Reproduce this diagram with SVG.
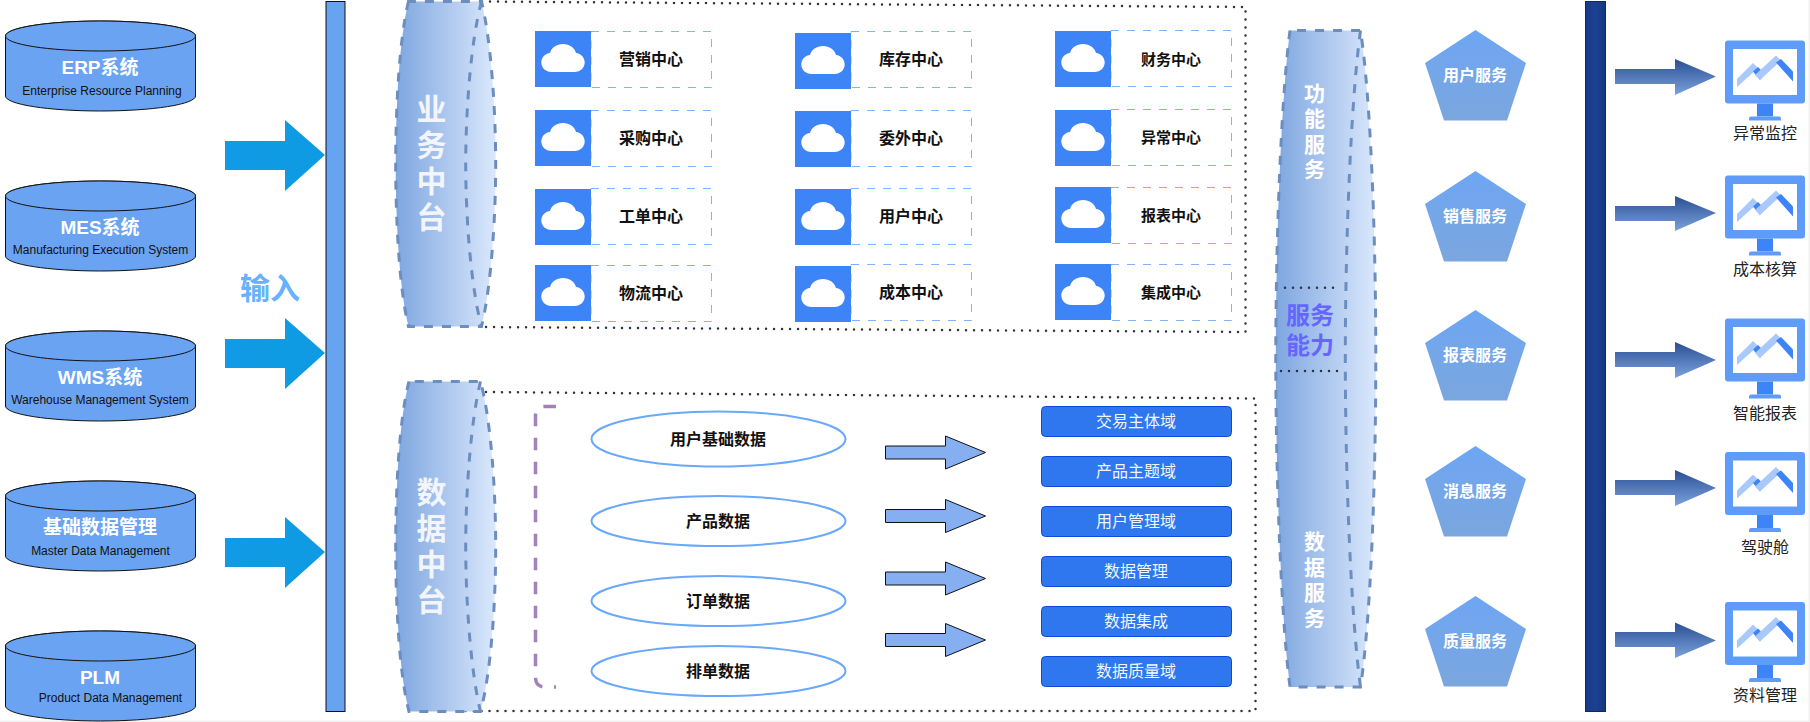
<svg xmlns="http://www.w3.org/2000/svg" width="1810" height="722" viewBox="0 0 1810 722">
<style>
text{font-family:"Liberation Sans","Noto Sans CJK SC",sans-serif;text-anchor:middle;dominant-baseline:central}
.db{fill:#69a3f2;stroke:#111;stroke-width:1}
.dbt{fill:#fff;font-size:19px;font-weight:700}
.dbs{fill:#111;font-size:12px}
.bar{fill:#66a3f1;stroke:#111;stroke-width:1}
.barr{fill:url(#gDark);stroke:#0b2a66;stroke-width:1}
.ar1{fill:url(#gCyan)}
.ar2{fill:#85aff0;stroke:#111;stroke-width:1}
.ar3{fill:url(#gArrow)}
.barrel{fill:url(#gBarrel);stroke:#6c8ebf;stroke-width:3;stroke-dasharray:9 9}
.inner{fill:none;stroke:#6c8ebf;stroke-width:3;stroke-dasharray:9 9}
.bt{fill:#f2f5fb;font-size:30px;font-weight:700;writing-mode:vertical-rl;letter-spacing:6px}
.st{fill:#fff;font-size:21px;font-weight:700;writing-mode:vertical-rl;letter-spacing:4.500px}
.dot{fill:none;stroke:#333;stroke-width:2.500;stroke-linecap:round;stroke-dasharray:0 8}
.card{fill:#fff;stroke:#7eb3ff;stroke-width:1;stroke-dasharray:8 8}
.ct{fill:#111;font-size:16px;font-weight:700}
.ct3{fill:#111;font-size:15px;font-weight:700}
.el{fill:#fff;stroke:#69a8fb;stroke-width:2}
.dom{fill:#2e77ee;stroke:#0d49d8;stroke-width:1}
.domt{fill:#f2f6ff;font-size:16px}
.pent{fill:url(#gPent)}
.pt{fill:#fff;font-size:16px;font-weight:700}
.lab{fill:#222;font-size:16px}
</style>
<defs>
<linearGradient id="gBarrel" x1="0" x2="1" y1="0" y2="0"><stop offset="0" stop-color="#7ea6e0"/><stop offset="1" stop-color="#dae8fc"/></linearGradient>
<linearGradient id="gDark" x1="0" x2="1" y1="0" y2="0"><stop offset="0" stop-color="#163a86"/><stop offset=".5" stop-color="#1c4192"/><stop offset="1" stop-color="#143880"/></linearGradient>
<linearGradient id="gCyan" x1="0" x2="1" y1="0" y2="0"><stop offset="0" stop-color="#119ae6"/><stop offset="1" stop-color="#0e9be3"/></linearGradient>
<linearGradient id="gArrow" x1="0" x2="0" y1="0" y2="1"><stop offset="0" stop-color="#2b4f93"/><stop offset="1" stop-color="#7aa2dc"/></linearGradient>
<linearGradient id="gPent" x1="0" x2="0" y1="0" y2="1"><stop offset="0" stop-color="#6ea6f3"/><stop offset="1" stop-color="#7ba6de"/></linearGradient>
<g id="dbshape">
<path class="db" d="M5.500 36A95 15 0 0 1 195.500 36V96A95 15 0 0 1 5.500 96Z"/>
<path class="db" d="M5.500 36A95 15 0 0 1 195.500 36A95 15 0 0 1 5.500 36Z"/>
</g>
<g id="icon">
<rect width="56" height="56" fill="#3d85f7"/>
<path fill="#fff" d="M16.500 41C10.500 41 6.300 36.500 6.300 31.500C6.300 26.500 10 22.500 15 22C16.500 16.500 21.500 13 28 13C34.500 13 39.500 16.500 41 22C46 22.500 49.700 26.500 49.700 31.500C49.700 36.500 45.500 41 39.500 41Z"/>
</g>
<g id="monitor">
<rect x="0" y="0" width="80" height="63" rx="3" fill="#5f9cf9"/>
<rect x="8" y="8.500" width="64" height="46" fill="#fff"/>
<rect x="32" y="63" width="16" height="13" fill="#3d85f7"/>
<path d="M24 80V78Q24 76 26 76H54Q56 76 56 78V80Z" fill="#5f9cf9"/>
<polygon points="12,46.500 12,38.500 28,22.500 33,27.500" fill="#a9c9fc"/>
<polygon points="28,31 33,26.500 39.500,33 35,39.500" fill="#3d85f7"/>
<polygon points="35,39.500 30,34.500 51,15 56,20" fill="#a9c9fc"/>
<polygon points="51,22 56,18.500 68,31 68,41" fill="#3d85f7"/>
</g>
</defs>

<rect x="0" y="720.500" width="1810" height="1.500" fill="#f1f1f1"/>
<rect x="1808.500" y="0" width="1.500" height="722" fill="#f1f1f1"/>

<g id="connectors">
<polygon class="ar1" points="225,141 285,141 285,120 325,155 285,191 285,170 225,170"/>
<polygon class="ar1" points="225,339 285,339 285,318 325,353 285,389 285,368 225,368"/>
<polygon class="ar1" points="225,538 285,538 285,517 325,552 285,588 285,567 225,567"/>
<polygon class="ar2" points="885.500,446 945.500,446 945.500,436 985.500,452.500 945.500,469 945.500,459 885.500,459"/>
<polygon class="ar2" points="885.500,509.500 945.500,509.500 945.500,499.500 985.500,516 945.500,532.500 945.500,522.500 885.500,522.500"/>
<polygon class="ar2" points="885.500,572 945.500,572 945.500,562 985.500,578.500 945.500,595 945.500,585 885.500,585"/>
<polygon class="ar2" points="885.500,633.500 945.500,633.500 945.500,623.500 985.500,640 945.500,656.500 945.500,646.500 885.500,646.500"/>
<polygon class="ar3" points="1615,69 1675,69 1675,59 1716,76.500 1675,95 1675,84 1615,84"/>
<polygon class="ar3" points="1615,206 1675,206 1675,196 1716,213 1675,231 1675,221 1615,221"/>
<polygon class="ar3" points="1615,352 1675,352 1675,342 1716,360 1675,378 1675,367 1615,367"/>
<polygon class="ar3" points="1615,480 1675,480 1675,470 1716,488 1675,506 1675,495 1615,495"/>
<polygon class="ar3" points="1615,632 1675,632 1675,622.500 1716,640.500 1675,658 1675,647 1615,647"/>
</g>

<g id="db-erp"><use href="#dbshape"/><text class="dbt" x="100" y="67">ERP系统</text><text class="dbs" x="102" y="91">Enterprise Resource Planning</text></g>
<g id="db-mes"><use href="#dbshape" y="160"/><text class="dbt" x="100" y="227">MES系统</text><text class="dbs" x="100.500" y="250">Manufacturing Execution System</text></g>
<g id="db-wms"><use href="#dbshape" y="310"/><text class="dbt" x="100" y="377">WMS系统</text><text class="dbs" x="100" y="400">Warehouse Management System</text></g>
<g id="db-mdm"><use href="#dbshape" y="460"/><text class="dbt" x="100" y="527">基础数据管理</text><text class="dbs" x="100.500" y="550.500">Master Data Management</text></g>
<g id="db-plm"><use href="#dbshape" y="610"/><text class="dbt" x="100" y="677">PLM</text><text class="dbs" x="110.500" y="697.500">Product Data Management</text></g>

<g id="input-label"><text x="270" y="288" font-size="30" font-weight="700" fill="#66b2ff">输入</text></g>
<g id="input-bar"><rect class="bar" x="326" y="1.500" width="19" height="710"/></g>

<g id="box-business"><path class="dot" d="M482 1.500L1245.500 7V332L482 327"/></g>
<g id="box-data"><path class="dot" d="M486 392L1255.500 398.500V711H456"/></g>

<g id="barrel-business">
<path class="barrel" d="M408.500 1.500C399 40 395.700 110 395.700 164C395.700 218 399 288 408.500 326.500H481.500C491 288 495.700 218 495.700 164C495.700 110 491 40 481.500 1.500Z"/>
<path class="inner" d="M481.500 1.500C471 40 465.700 110 465.700 164C465.700 218 471 288 481.500 326.500"/>
<text class="bt" x="429" y="166">业务中台</text>
</g>
<g id="barrel-data">
<path class="barrel" d="M409 381.500C399 420 395.700 490 395.700 546.500C395.700 603 399 673 409 711.500H480.500C491 673 495.700 603 495.700 546.500C495.700 490 491 420 480.500 381.500Z"/>
<path class="inner" d="M480.500 381.500C471 420 465.700 490 465.700 546.500C465.700 603 471 673 480.500 711.500"/>
<text class="bt" x="429" y="549">数据中台</text>
</g>

<g id="c-yingxiao"><rect class="card" x="591" y="31.500" width="120.500" height="56"/><use href="#icon" x="535" y="31"/><text class="ct" x="651" y="59">营销中心</text></g>
<g id="c-caigou"><rect class="card" x="591" y="110.500" width="120.500" height="56"/><use href="#icon" x="535" y="110"/><text class="ct" x="651" y="138">采购中心</text></g>
<g id="c-gongdan"><rect class="card" x="591" y="188.500" width="120.500" height="56"/><use href="#icon" x="535" y="189"/><text class="ct" x="651" y="216">工单中心</text></g>
<g id="c-wuliu"><rect class="card" x="591" y="265.500" width="120.500" height="56"/><use href="#icon" x="535" y="265"/><text class="ct" x="651" y="293">物流中心</text></g>
<g id="c-kucun"><rect class="card" x="851" y="31.500" width="120.500" height="56"/><use href="#icon" x="795" y="33"/><text class="ct" x="911" y="59">库存中心</text></g>
<g id="c-weiwai"><rect class="card" x="851" y="110.500" width="120.500" height="56"/><use href="#icon" x="795" y="111"/><text class="ct" x="911" y="138">委外中心</text></g>
<g id="c-yonghu"><rect class="card" x="851" y="188.500" width="120.500" height="56"/><use href="#icon" x="795" y="189"/><text class="ct" x="911" y="216">用户中心</text></g>
<g id="c-chengben"><rect class="card" x="851" y="264.500" width="120.500" height="56"/><use href="#icon" x="795" y="266"/><text class="ct" x="911" y="292">成本中心</text></g>
<g id="c-caiwu"><rect class="card" x="1111" y="30.500" width="120.500" height="56"/><use href="#icon" x="1055" y="31"/><text class="ct3" x="1171" y="59">财务中心</text></g>
<g id="c-yichang"><rect class="card" x="1111" y="109.500" width="120.500" height="56"/><use href="#icon" x="1055" y="110"/><text class="ct3" x="1171" y="137">异常中心</text></g>
<g id="c-baobiao"><rect class="card" x="1111" y="187.500" width="120.500" height="56"/><use href="#icon" x="1055" y="187"/><text class="ct3" x="1171" y="215">报表中心</text></g>
<g id="c-jicheng"><rect class="card" x="1111" y="264.500" width="120.500" height="56"/><use href="#icon" x="1055" y="264"/><text class="ct3" x="1171" y="292">集成中心</text></g>

<g id="bracket"><path d="M556 406.500H545Q535.500 406.500 535.500 416V677Q535.500 687 545 687H556" fill="none" stroke="#a680b8" stroke-width="3.500" stroke-dasharray="12.500 11.500"/></g>

<g id="e-user"><ellipse class="el" cx="718.500" cy="439" rx="127" ry="27.500"/><text class="ct" x="718" y="439">用户基础数据</text></g>
<g id="e-product"><ellipse class="el" cx="718.500" cy="521" rx="127" ry="25"/><text class="ct" x="718" y="521">产品数据</text></g>
<g id="e-order"><ellipse class="el" cx="718.500" cy="601" rx="127" ry="25"/><text class="ct" x="718" y="601">订单数据</text></g>
<g id="e-sched"><ellipse class="el" cx="718.500" cy="671" rx="127" ry="25"/><text class="ct" x="718" y="671">排单数据</text></g>

<g id="d-1"><rect class="dom" x="1041.500" y="406.500" width="190" height="30" rx="4"/><text class="domt" x="1136" y="421.500">交易主体域</text></g>
<g id="d-2"><rect class="dom" x="1041.500" y="456.500" width="190" height="30" rx="4"/><text class="domt" x="1136" y="471.500">产品主题域</text></g>
<g id="d-3"><rect class="dom" x="1041.500" y="506.500" width="190" height="30" rx="4"/><text class="domt" x="1136" y="521.500">用户管理域</text></g>
<g id="d-4"><rect class="dom" x="1041.500" y="556.500" width="190" height="30" rx="4"/><text class="domt" x="1136" y="571.500">数据管理</text></g>
<g id="d-5"><rect class="dom" x="1041.500" y="606.500" width="190" height="30" rx="4"/><text class="domt" x="1136" y="621.500">数据集成</text></g>
<g id="d-6"><rect class="dom" x="1041.500" y="656.500" width="190" height="30" rx="4"/><text class="domt" x="1136" y="671.500">数据质量域</text></g>

<g id="barrel-service">
<path class="barrel" d="M1290 30.500C1281 100 1275.800 240 1275.800 358C1275.800 476 1281 617 1290 687H1360.500C1371 617 1375.800 476 1375.800 358C1375.800 240 1371 100 1360.500 30.500Z"/>
<path class="inner" d="M1360.500 30.500C1351 100 1345.300 240 1345.300 358C1345.300 476 1351 617 1360.500 687"/>
<text class="st" x="1313" y="133.500">功能服务</text>
<text class="st" x="1313" y="582">数据服务</text>
<path class="dot" d="M1285 287.700H1337"/>
<path class="dot" d="M1281 371H1338"/>
<text font-size="24" font-weight="700" fill="#6666ff"><tspan x="1310" y="315">服务</tspan><tspan x="1310" y="345">能力</tspan></text>
</g>

<g id="p-user"><polygon class="pent" points="1475.500,30 1526,63 1507,120.500 1444,120.500 1425,63"/><text class="pt" x="1475" y="75">用户服务</text></g>
<g id="p-sales"><polygon class="pent" points="1475.500,171 1526,204 1507,261.500 1444,261.500 1425,204"/><text class="pt" x="1475" y="216">销售服务</text></g>
<g id="p-report"><polygon class="pent" points="1475.500,310 1526,343 1507,400.500 1444,400.500 1425,343"/><text class="pt" x="1475" y="355">报表服务</text></g>
<g id="p-msg"><polygon class="pent" points="1475.500,446 1526,479 1507,536.500 1444,536.500 1425,479"/><text class="pt" x="1475" y="491">消息服务</text></g>
<g id="p-quality"><polygon class="pent" points="1475.500,596 1526,629 1507,686.500 1444,686.500 1425,629"/><text class="pt" x="1475" y="641">质量服务</text></g>

<g id="output-bar"><rect class="barr" x="1585.500" y="1.500" width="20" height="710"/></g>

<g id="m-1"><use href="#monitor" x="1725" y="40.500"/><text class="lab" x="1765" y="133.500">异常监控</text></g>
<g id="m-2"><use href="#monitor" x="1725" y="175.500"/><text class="lab" x="1765" y="269">成本核算</text></g>
<g id="m-3"><use href="#monitor" x="1725" y="318.500"/><text class="lab" x="1765" y="413">智能报表</text></g>
<g id="m-4"><use href="#monitor" x="1725" y="452"/><text class="lab" x="1765" y="547">驾驶舱</text></g>
<g id="m-5"><use href="#monitor" x="1725" y="602"/><text class="lab" x="1765" y="695">资料管理</text></g>
</svg>
